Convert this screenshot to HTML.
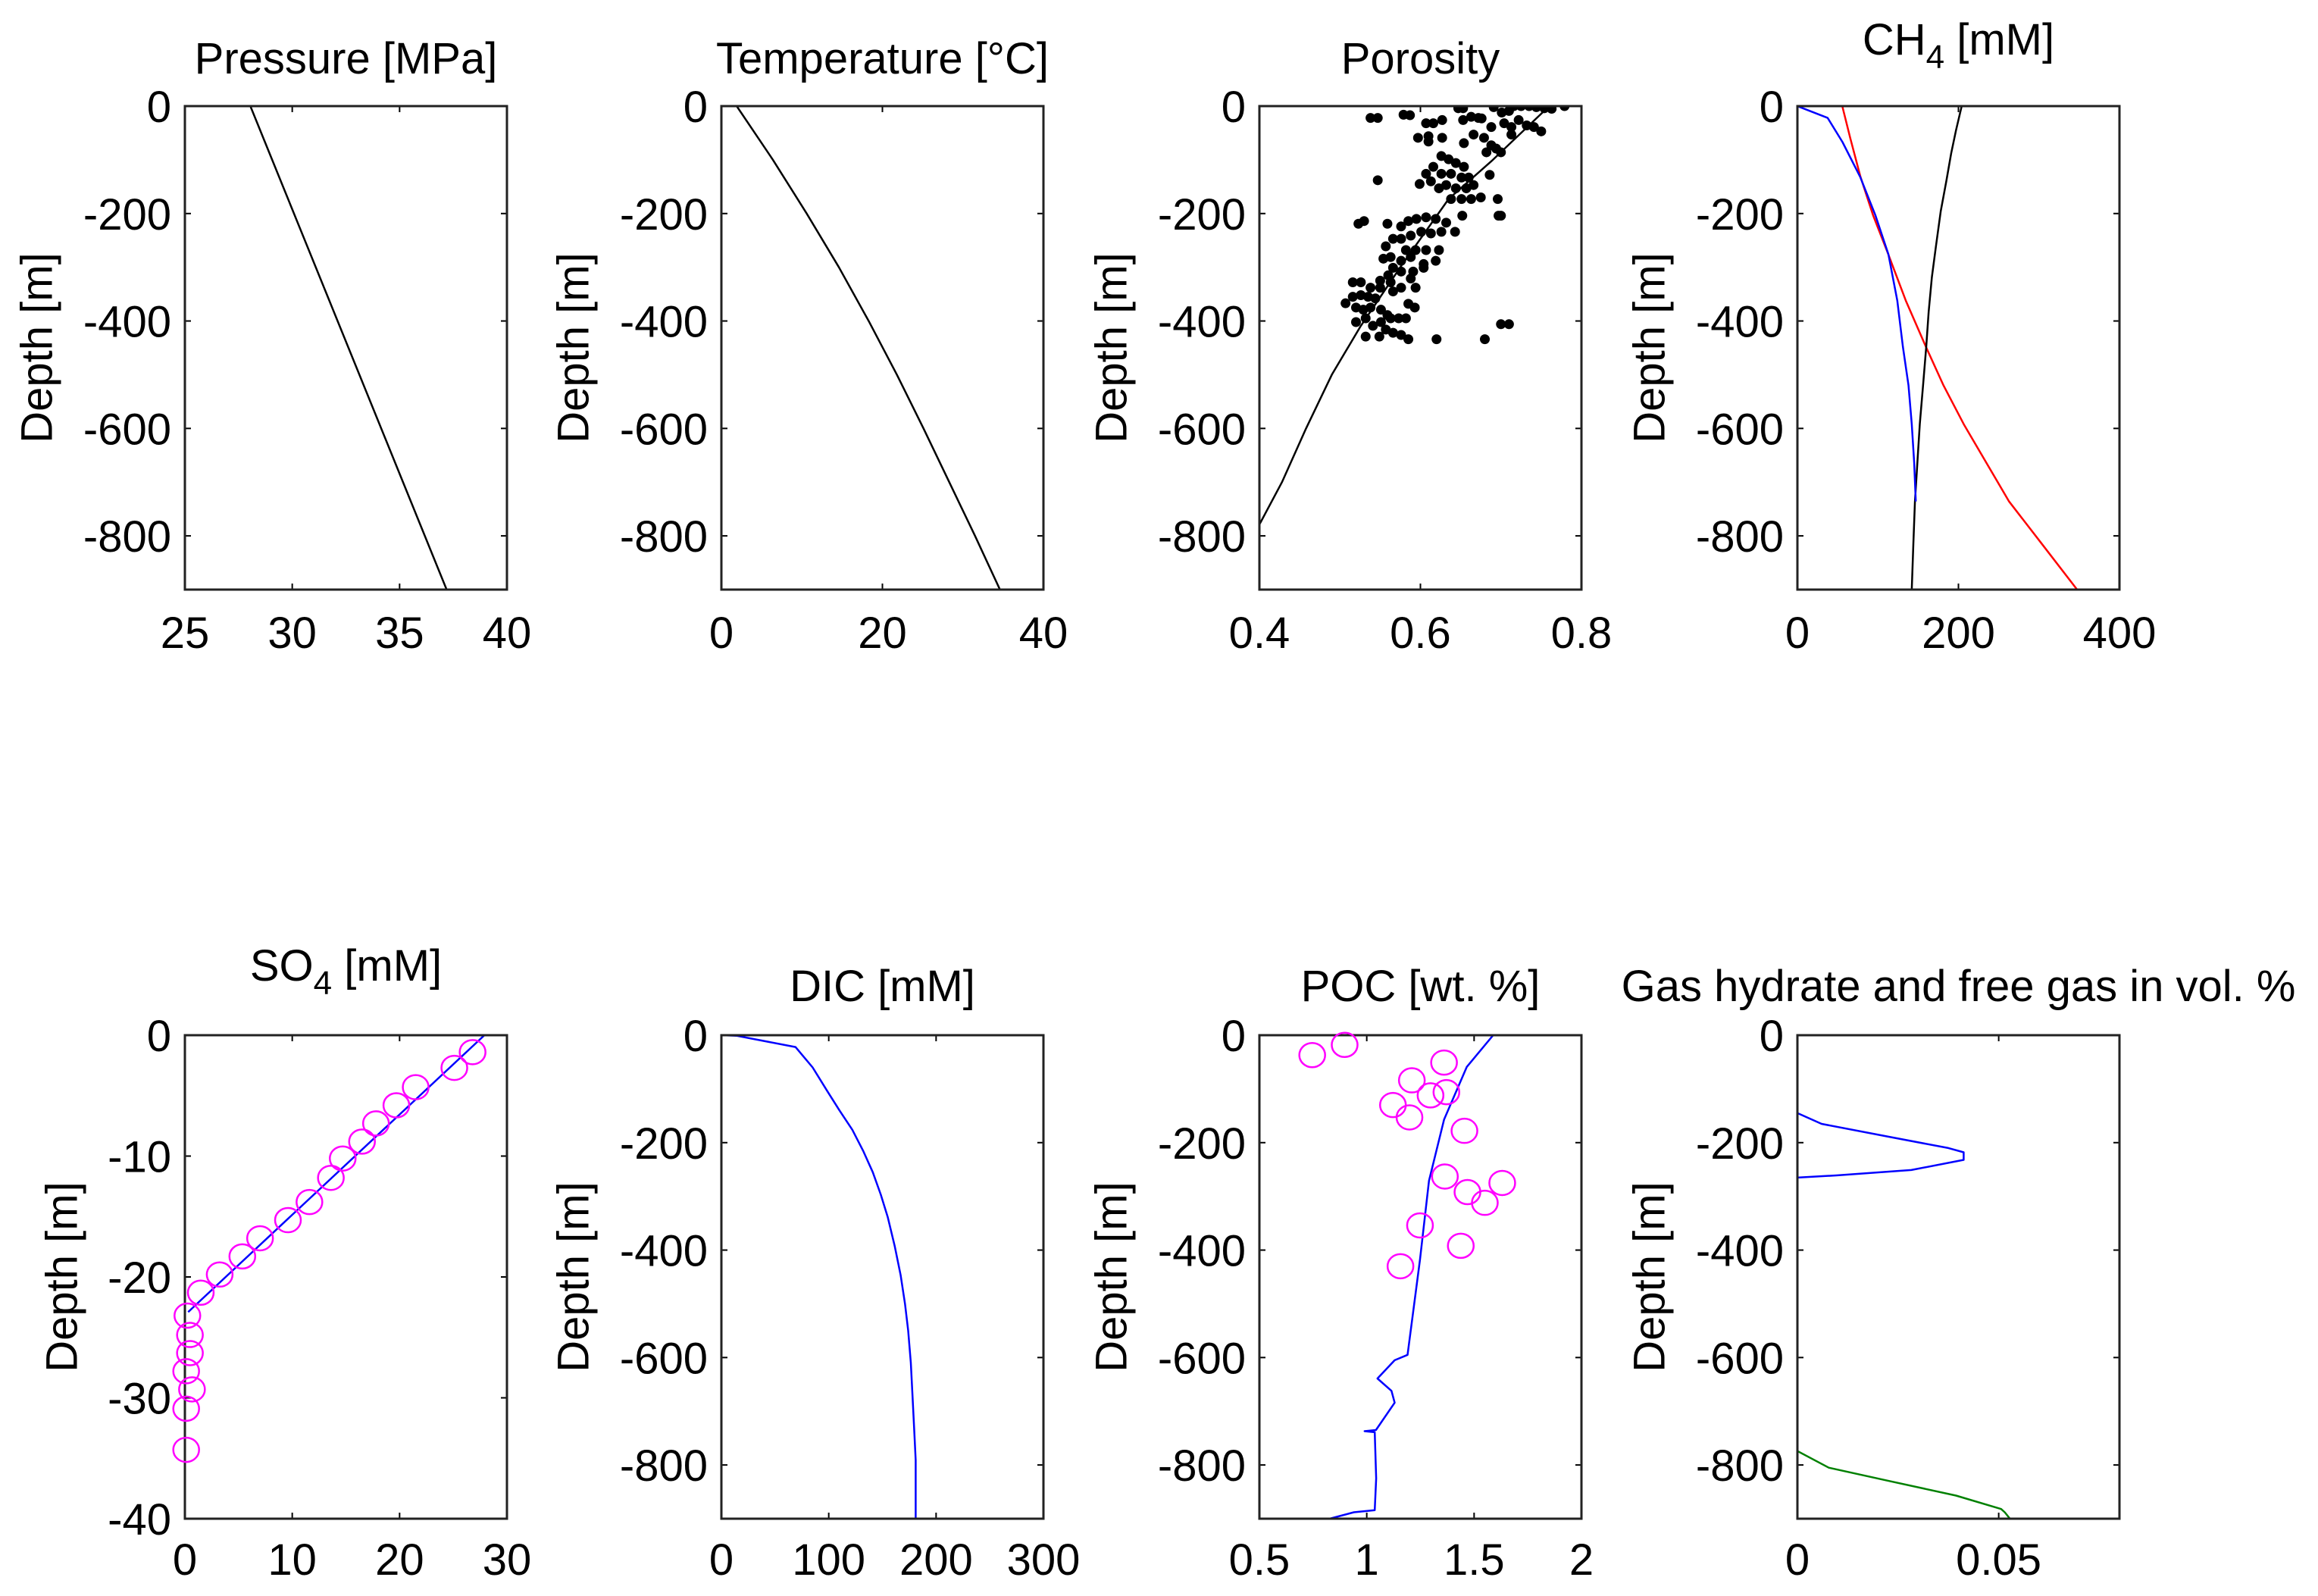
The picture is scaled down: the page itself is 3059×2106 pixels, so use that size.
<!DOCTYPE html>
<html><head><meta charset="utf-8">
<style>
html,body{margin:0;padding:0;background:#fff;}
svg{display:block;font-family:"Liberation Sans",Arial,sans-serif;}
</style></head>
<body>
<svg id="fig" width="3059" height="2106" viewBox="0 0 3059 2106" xmlns="http://www.w3.org/2000/svg"></svg>
<script>
// ---------- data ----------
const depthTicksM = [0,-200,-400,-600,-800];
const so4DepthTicks = [0,-10,-20,-30,-40];

const pressureDepth = [0,-900];
const pressureVal = [28.05,37.19];

const tempDepth = [0,-100,-200,-300,-400,-500,-600,-700,-800,-900];
const tempVal = [1.9,6.4,10.6,14.6,18.3,21.8,25.1,28.3,31.5,34.6];

const porLineDepth = [0,-100,-173,-300,-409,-500,-600,-700,-779];
const porLineVal = [0.76,0.69,0.635,0.575,0.526,0.49,0.458,0.428,0.4];
// porosity scatter (values in porosity, depth m)
const porDotX = [0.647,0.653,0.691,0.716,0.725,0.735,0.744,0.754,0.763,0.779,0.701,0.71,
0.538,0.547,0.579,0.587,0.607,0.616,0.627,0.653,0.663,0.672,0.676,0.688,0.704,0.713,0.722,0.732,0.741,0.75,
0.597,0.61,0.61,0.627,0.654,0.666,0.679,0.688,0.694,0.7,0.713,0.682,
0.626,0.635,0.644,0.654,0.616,0.607,0.626,0.638,0.651,0.66,0.632,0.644,0.657,0.666,0.623,0.638,0.651,0.663,0.675,0.599,0.613,0.686,0.696,0.547,0.652,0.7,0.697,0.643,
0.523,0.53,0.559,0.576,0.585,0.595,0.607,0.619,0.632,0.576,0.588,0.601,0.613,0.626,0.566,0.557,0.582,0.594,0.607,0.623,0.563,0.576,0.588,0.604,0.619,0.554,0.566,0.56,0.576,0.591,0.604,0.55,0.563,0.576,0.588,0.594,0.516,0.526,0.538,0.55,0.566,
0.507,0.516,0.526,0.535,0.544,0.52,0.529,0.538,0.551,0.585,0.593,0.52,0.532,0.541,0.551,0.563,0.573,0.582,0.532,0.549,0.566,0.576,0.585,0.62,0.68,0.7,0.71,0.557,0.559];
const porDotD = [-4,-4,-2,0,0,0,-2,-4,-5,0,-12,-9,
-22,-22,-16,-17,-32,-32,-26,-26,-20,-22,-23,-39,-32,-39,-26,-36,-39,-47,
-59,-56,-66,-59,-69,-53,-59,-73,-79,-86,-53,-86,
-93,-99,-106,-113,-113,-126,-126,-126,-133,-133,-147,-153,-153,-147,-153,-173,-173,-173,-170,-145,-140,-128,-173,-138,-204,-204,-204,-234,
-219,-214,-219,-224,-214,-210,-207,-210,-217,-247,-241,-234,-237,-234,-247,-261,-268,-268,-268,-268,-281,-288,-281,-294,-288,-284,-301,-315,-308,-308,-301,-325,-328,-338,-321,-338,-328,-328,-338,-338,-345,
-367,-355,-352,-355,-358,-375,-379,-375,-379,-368,-375,-402,-395,-409,-402,-395,-395,-395,-429,-429,-422,-426,-434,-434,-434,-406,-406,-416,-389];

const ch4BlueDepth = [0,-22,-67,-132,-204,-276,-362,-448,-520,-592,-664,-736];
const ch4BlueVal = [0,37.6,56,78,97,113,124,131,138,142,145,147];
const ch4RedDepth = [0,-60,-131,-203,-275,-362,-448,-520,-592,-664,-736,-815,-900];
const ch4RedVal = [55.7,65.7,78.2,93.9,112.7,134.6,159.6,181.5,206.6,234.7,262.9,303.6,347.4];
const ch4BlackDepth = [0,-45,-88,-139,-196,-261,-319,-383,-448,-520,-592,-664,-736,-815,-900];
const ch4BlackVal = [204,197,191,185,178,172,167,163,160,156,152,149,146,144,142];

const so4LineDepth = [0,-22.9];
const so4LineVal = [27.9,0.3];
const so4ObsVal = [26.8,25.1,21.5,19.7,17.8,16.5,14.7,13.6,11.6,9.6,7.0,5.35,3.24,1.48,0.23,0.47,0.47,0.12,0.66,0.12,0.12];
const so4ObsDepth = [-1.4,-2.7,-4.3,-5.8,-7.3,-8.8,-10.2,-11.8,-13.8,-15.3,-16.8,-18.3,-19.8,-21.3,-23.2,-24.8,-26.3,-27.8,-29.3,-30.9,-34.3];

const dicDepth = [0,-1,-22,-60,-104,-140,-176,-215,-255,-297,-339,-393,-447,-500,-550,-610,-671,-730,-791,-850,-900];
const dicVal = [0,14,69,85,98.6,110,122,132,141,148.5,155,161.5,167,171,174,176.5,178,179.5,181,181,181];

const pocLineDepth = [0,-59,-157,-271,-418,-595,-605,-639,-662,-684,-735,-737,-739,-825,-884,-888,-900];
const pocLineVal = [1.589,1.466,1.36,1.29,1.248,1.19,1.13,1.05,1.115,1.13,1.043,0.99,1.037,1.044,1.037,0.94,0.827];
const pocObsVal = [0.746,0.897,1.36,1.21,1.297,1.371,1.122,1.199,1.455,1.364,1.469,1.631,1.55,1.248,1.438,1.157];
const pocObsDepth = [-37,-18,-51,-84,-112,-106,-130,-153,-178,-263,-292,-275,-312,-354,-392,-430];

const hydDepth = [-145,-165,-189,-210,-218,-232,-251,-261,-265];
const hydVal = [0,0.006,0.0227,0.0375,0.0413,0.0413,0.0283,0.0097,0];
const gasDepth = [-774,-805,-829,-857,-882,-888,-900];
const gasVal = [0,0.0078,0.0223,0.0394,0.0506,0.0515,0.0528];

// ---------- drawing ----------
const NS = "http://www.w3.org/2000/svg";
const svg = document.getElementById('fig');
function mk(tag, attrs, parent){
  const e = document.createElementNS(NS, tag);
  for (const k in attrs) e.setAttribute(k, attrs[k]);
  (parent||svg).appendChild(e);
  return e;
}
const colL = [244,952,1662,2372], W = 425, H = 638;
const rowT = [140,1366];
const FS = 58;

function panel(name, col, row, xmin, xmax, xticks, xlabels, ymin, ymax, yticks, title, sub, titleRest, ylabOff){
  const g = mk('g', {});
  
  
  const L = colL[col], T = rowT[row];
  const sx = v => L + (v - xmin) / (xmax - xmin) * W;
  const sy = v => T + (ymax - v) / (ymax - ymin) * H;
  const clipId = 'clip-' + name;
  const cp = mk('clipPath', {id: clipId}, g);
  mk('rect', {x:L, y:T, width:W, height:H}, cp);
  const plot = mk('g', {'clip-path':'url(#'+clipId+')'}, g);
  
  
  xticks.forEach((v,i)=>{
    const x = sx(v);
    const t1 = mk('line', {x1:x, x2:x, y1:T+H, y2:T+H-8, stroke:'#000', 'stroke-width':2}, g);
    
    
    mk('line', {x1:x, x2:x, y1:T, y2:T+8, stroke:'#000', 'stroke-width':2}, g);
    const tx = mk('text', {x:x, y:(row===0?855:2078), 'font-size':FS, 'text-anchor':'middle', fill:'#000'}, g);
    tx.textContent = xlabels[i];
    
    
  });
  yticks.forEach(v=>{
    const y = sy(v);
    mk('line', {x1:L, x2:L+8, y1:y, y2:y, stroke:'#000', 'stroke-width':2}, g);
    mk('line', {x1:L+W, x2:L+W-8, y1:y, y2:y, stroke:'#000', 'stroke-width':2}, g);
    const ty = mk('text', {x:L-18, y:y+21, 'font-size':FS, 'text-anchor':'end', fill:'#000'}, g);
    ty.textContent = String(v);
    
    
  });
  const box = mk('rect', {x:L, y:T, width:W, height:H, fill:'none', stroke:'#222', 'stroke-width':3}, g);
  
  
  const cx = L - ylabOff, cy = T + H/2;
  const yl = mk('text', {x:cx, y:cy, 'font-size':FS, 'text-anchor':'middle', 'dominant-baseline':'central', transform:'rotate(-90 '+cx+' '+cy+')', fill:'#000'}, g);
  yl.textContent = 'Depth [m]';
  
  
  const ty = row===0 ? (sub ? 72 : 97) : (sub ? 1294 : 1321);
  const tt = mk('text', {x:L+W/2, y:ty, 'font-size':FS, 'text-anchor':'middle', fill:'#000'}, g);
  if (sub){
    const a = mk('tspan', {}, tt); a.textContent = title;
    const b = mk('tspan', {dy:18, 'font-size':44}, tt); b.textContent = sub;
    const c = mk('tspan', {dy:-18}, tt); c.textContent = ' ' + titleRest;
  } else tt.textContent = title;
  
  
  return {sx, sy, plot};
}
function line(p, xs, ds, color, w, name){
  const pts = xs.map((v,i)=>p.sx(v).toFixed(1)+','+p.sy(ds[i]).toFixed(1)).join(' ');
  const e = mk('polyline', {points:pts, fill:'none', stroke:color, 'stroke-width':w, 'stroke-linejoin':'round'}, p.plot);
  
  
}
function circles(p, xs, ds, name){
  xs.forEach((v,i)=>{
    const e = mk('ellipse', {cx:p.sx(v), cy:p.sy(ds[i]), rx:17, ry:16, fill:'none', stroke:'#ff00ff', 'stroke-width':2.5}, svg);
    
    
  });
}

let p;
p = panel('pressure',0,0,25,40,[25,30,35,40],['25','30','35','40'],-900,0,depthTicksM,'Pressure [MPa]',null,null,195);
line(p, pressureVal, pressureDepth, '#000', 2.5, 'pressure-line');

p = panel('temperature',1,0,0,40,[0,20,40],['0','20','40'],-900,0,depthTicksM,'Temperature [°C]',null,null,195);
line(p, tempVal, tempDepth, '#000', 2.5, 'temperature-line');

p = panel('porosity',2,0,0.4,0.8,[0.4,0.6,0.8],['0.4','0.6','0.8'],-900,0,depthTicksM,'Porosity',null,null,195);
line(p, porLineVal, porLineDepth, '#000', 2.5, 'porosity-fit-line');
porDotX.forEach((v,i)=>{
  const e = mk('circle', {cx:p.sx(v), cy:p.sy(porDotD[i]), r:6.5, fill:'#000'}, p.plot);
  
  
});

p = panel('ch4',3,0,0,400,[0,200,400],['0','200','400'],-900,0,depthTicksM,'CH','4','[mM]',195);
line(p, ch4RedVal, ch4RedDepth, '#ff0000', 2.5, 'ch4-solubility-line');
line(p, ch4BlackVal, ch4BlackDepth, '#000', 2.5, 'ch4-black-line');
line(p, ch4BlueVal, ch4BlueDepth, '#0000ff', 2.5, 'ch4-concentration-line');

p = panel('so4',0,1,0,30,[0,10,20,30],['0','10','20','30'],-40,0,so4DepthTicks,'SO','4','[mM]',162);
line(p, so4LineVal, so4LineDepth, '#0000ff', 2.5, 'so4-model-line');
circles(p, so4ObsVal, so4ObsDepth, 'so4-observation');

p = panel('dic',1,1,0,300,[0,100,200,300],['0','100','200','300'],-900,0,depthTicksM,'DIC [mM]',null,null,195);
line(p, dicVal, dicDepth, '#0000ff', 2.5, 'dic-line');

p = panel('poc',2,1,0.5,2,[0.5,1,1.5,2],['0.5','1','1.5','2'],-900,0,depthTicksM,'POC [wt. %]',null,null,195);
line(p, pocLineVal, pocLineDepth, '#0000ff', 2.5, 'poc-model-line');
circles(p, pocObsVal, pocObsDepth, 'poc-observation');

p = panel('gas',3,1,0,0.08,[0,0.05],['0','0.05'],-900,0,depthTicksM,'Gas hydrate and free gas in vol. %',null,null,195);
line(p, hydVal, hydDepth, '#0000ff', 2.5, 'gas-hydrate-line');
line(p, gasVal, gasDepth, '#008000', 2.5, 'free-gas-line');
</script>
</body></html>
